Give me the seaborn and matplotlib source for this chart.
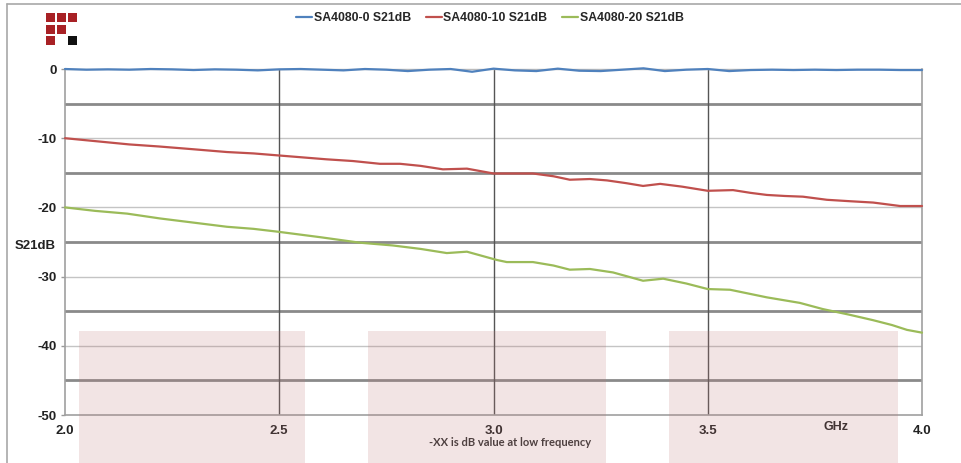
import numpy as np
import pandas as pd
import matplotlib
matplotlib.use("Agg")
import matplotlib.pyplot as plt
from matplotlib.patches import Rectangle
from matplotlib.lines import Line2D
import seaborn as sns

# ---------------- data ----------------
series_names = ["SA4080-0 S21dB", "SA4080-10 S21dB", "SA4080-20 S21dB"]
series_colors = ["#4F81BD", "#C0504D", "#9BBB59"]

blue_ghz = [2.0, 2.05, 2.1, 2.15, 2.2, 2.25, 2.3, 2.35, 2.4, 2.45, 2.5, 2.55, 2.6,
            2.65, 2.7, 2.75, 2.8, 2.85, 2.9, 2.95, 3.0, 3.05, 3.1, 3.15, 3.2, 3.25,
            3.3, 3.35, 3.4, 3.45, 3.5, 3.55, 3.6, 3.65, 3.7, 3.75, 3.8, 3.85, 3.9,
            3.95, 4.0]
blue_db = [0.0, -0.1, -0.05, -0.1, 0.0, -0.05, -0.15, -0.05, -0.1, -0.2, -0.05, 0.0,
           -0.1, -0.2, 0.0, -0.1, -0.3, -0.1, 0.0, -0.4, 0.05, -0.2, -0.3, 0.05,
           -0.25, -0.3, -0.1, 0.1, -0.3, -0.1, 0.0, -0.3, -0.15, -0.1, -0.15, -0.1,
           -0.15, -0.1, -0.1, -0.15, -0.15]

red_ghz = [2.0, 2.05, 2.1, 2.15, 2.22, 2.3, 2.378, 2.44, 2.5, 2.56, 2.61, 2.672,
           2.735, 2.782, 2.83, 2.882, 2.938, 3.0, 3.05, 3.092, 3.14, 3.178, 3.225,
           3.265, 3.31, 3.349, 3.389, 3.44, 3.5, 3.559, 3.6, 3.638, 3.68, 3.722,
           3.778, 3.83, 3.886, 3.949, 4.0]
red_db = [-10.0, -10.3, -10.6, -10.9, -11.2, -11.6, -12.0, -12.2, -12.5, -12.8,
          -13.05, -13.3, -13.7, -13.7, -14.0, -14.5, -14.4, -15.1, -15.1, -15.1,
          -15.5, -16.0, -15.9, -16.1, -16.5, -16.9, -16.6, -17.0, -17.6, -17.5,
          -17.9, -18.2, -18.35, -18.45, -18.9, -19.1, -19.3, -19.8, -19.8]

green_ghz = [2.0, 2.07, 2.145, 2.222, 2.3, 2.378, 2.44, 2.495, 2.595, 2.688, 2.765,
             2.83, 2.891, 2.938, 3.008, 3.031, 3.092, 3.14, 3.178, 3.225, 3.279,
             3.349, 3.396, 3.45, 3.5, 3.552, 3.638, 3.715, 3.769, 3.83, 3.886,
             3.93, 3.965, 4.0]
green_db = [-20.0, -20.5, -20.9, -21.6, -22.2, -22.8, -23.1, -23.5, -24.3, -25.1,
            -25.5, -26.0, -26.6, -26.4, -27.6, -27.9, -27.9, -28.4, -29.0, -28.9,
            -29.4, -30.6, -30.3, -31.0, -31.8, -31.9, -33.0, -33.8, -34.7, -35.5,
            -36.3, -37.0, -37.7, -38.1]

x_ticks = [2.0, 2.5, 3.0, 3.5, 4.0]
x_tick_labels = ["2.0", "2.5", "3.0", "3.5", "4.0"]
y_ticks = [0, -10, -20, -30, -40, -50]
y_tick_labels = ["0", "-10", "-20", "-30", "-40", "-50"]
y_minor = [-5, -15, -25, -35, -45]

df = pd.concat([
    pd.DataFrame({"GHz": blue_ghz, "dB": blue_db, "series": series_names[0]}),
    pd.DataFrame({"GHz": red_ghz, "dB": red_db, "series": series_names[1]}),
    pd.DataFrame({"GHz": green_ghz, "dB": green_db, "series": series_names[2]}),
], ignore_index=True)

# ---------------- style ----------------
sns.set_style("white")
plt.rcParams["font.family"] = ["Liberation Sans", "DejaVu Sans"]

W, H = 961, 463
fig = plt.figure(figsize=(W / 100, H / 100), dpi=100)
fig.patch.set_facecolor("white")

def fx(px):
    return px / W

def fy(py):
    return 1 - py / H

ax = fig.add_axes([fx(65), fy(415), fx(922) - fx(65), fy(69) - fy(415)])

# gridlines
for v in y_ticks[1:-1]:
    ax.axhline(v, color="#c4c4c4", lw=1.0, zorder=0.5)
for v in y_minor:
    ax.axhline(v, color="#8a8a8a", lw=2.0, zorder=0.5)
for v in x_ticks[1:-1]:
    ax.axvline(v, color="#555555", lw=1.0, zorder=0.6)

sns.lineplot(data=df, x="GHz", y="dB", hue="series", palette=series_colors,
             hue_order=series_names, estimator=None, legend=False, lw=1.6, ax=ax,
             zorder=3)
for ln in ax.lines:
    if ln.get_zorder() == 3:
        ln.set_clip_on(False)
        ln.set_solid_joinstyle("round")
        ln.set_solid_capstyle("round")

ax.set_xlim(2.0, 4.0)
ax.set_ylim(-50, 0)
ax.set_xticks(x_ticks)
ax.set_xticklabels(x_tick_labels, fontweight="bold", fontsize=9.5, color="#222222")
ax.set_yticks(y_ticks)
ax.set_yticklabels(y_tick_labels, fontweight="bold", fontsize=9.5, color="#222222")
ax.tick_params(axis="x", length=0, pad=7)
ax.tick_params(axis="y", length=3, width=1, color="#999999", pad=3, left=True)
ax.set_xlabel("")
ax.set_ylabel("")
for s in ["left", "bottom", "right"]:
    ax.spines[s].set_color("#a0a0a0")
    ax.spines[s].set_linewidth(1.2)
ax.spines["top"].set_color("#bbbbbb")
ax.spines["top"].set_linewidth(1.0)

# axis texts
fig.text(fx(35), fy(246), "S21dB", ha="center", va="center", fontsize=9.5,
         fontweight="bold", color="#222222")
fig.text(fx(836), fy(427), "GHz", ha="center", va="center", fontsize=9,
         fontweight="bold", color="#222222")
fig.text(fx(510), fy(443), "-XX is dB value at low frequency", ha="center",
         va="center", fontsize=8, fontweight="bold", color="#333333",
         family=["Lato", "DejaVu Sans"])

# legend
handles = [Line2D([0], [0], color=c, lw=1.6) for c in series_colors]
fig.legend(handles, series_names, loc="center", bbox_to_anchor=(fx(490), fy(18)),
           ncol=3, frameon=False, handlelength=1.3, handletextpad=0.15,
           columnspacing=1.2, prop={"weight": "bold", "size": 8.8})

# pink overlay blocks
for x0, x1 in [(79, 305), (368, 606), (669, 898)]:
    fig.patches.append(Rectangle((fx(x0), 0), fx(x1) - fx(x0), fy(331),
                                 transform=fig.transFigure,
                                 facecolor=(190 / 255, 120 / 255, 120 / 255, 0.2),
                                 edgecolor="none", zorder=5))

# logo
red = "#A82125"
for (cx, cy) in [(46, 13), (57, 13), (68, 13), (46, 25), (57, 25), (46, 36)]:
    fig.patches.append(Rectangle((fx(cx), fy(cy + 9)), fx(9), 9 / H,
                                 transform=fig.transFigure, facecolor=red,
                                 edgecolor="none"))
fig.patches.append(Rectangle((fx(68), fy(36 + 9)), fx(9), 9 / H,
                             transform=fig.transFigure, facecolor="#111111",
                             edgecolor="none"))

# outer frame lines (top and left)
fig.add_artist(Line2D([fx(7), 1], [fy(4), fy(4)], transform=fig.transFigure,
                      color="#a8a8a8", lw=1.2))
fig.add_artist(Line2D([fx(7), fx(7)], [fy(4), 0], transform=fig.transFigure,
                      color="#a8a8a8", lw=1.2))

fig.savefig("out.png", dpi=100)
